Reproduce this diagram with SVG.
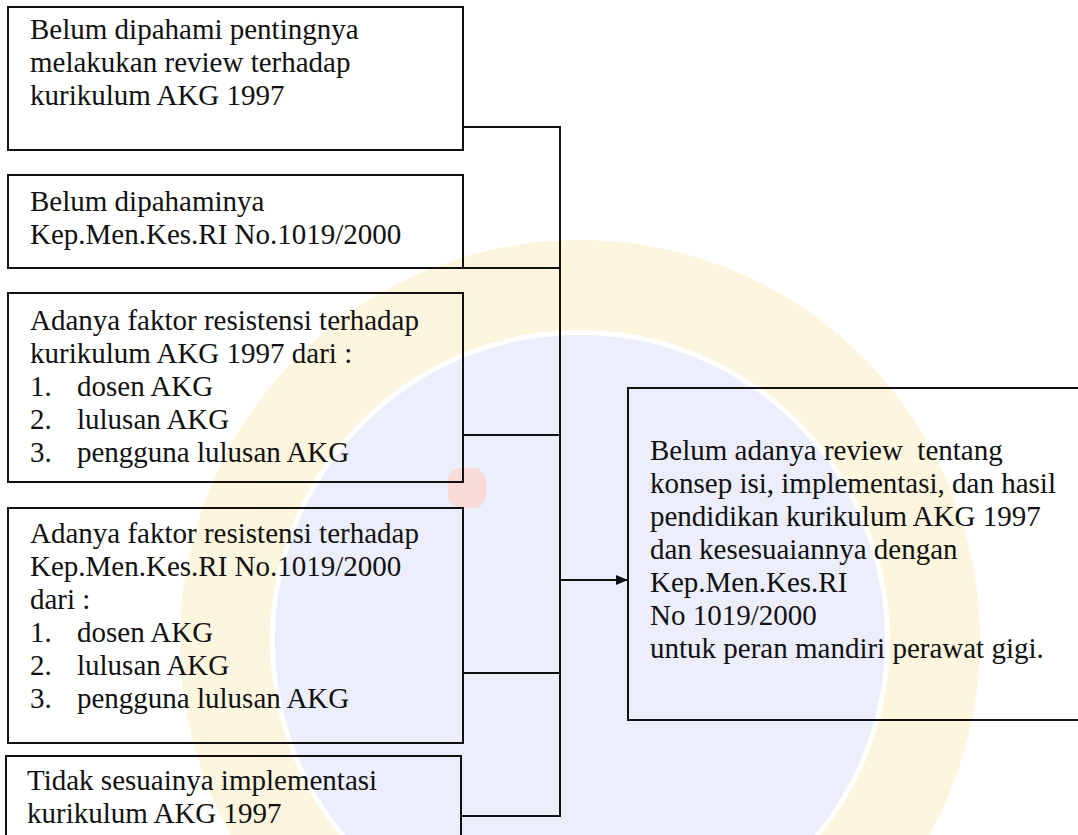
<svg xmlns="http://www.w3.org/2000/svg" width="1078" height="835" viewBox="0 0 1078 835">
<style>
  .box { fill: none; stroke: #111; stroke-width: 2; }
  .conn { fill: none; stroke: #111; stroke-width: 2; }
  text { font-family: "Liberation Serif", "Times New Roman", serif; font-size: 29px; fill: #111; }
</style>
<defs>
  <marker id="arrow" viewBox="0 0 12 10" refX="12" refY="5" markerWidth="12" markerHeight="10" markerUnits="userSpaceOnUse" orient="auto">
    <path d="M0,0 L12,5 L0,10 z" fill="#111"/>
  </marker>
</defs>
<rect width="1078" height="835" fill="#ffffff"/>
<g id="watermark" opacity="0.65">
  <circle cx="580" cy="640" r="355" fill="none" stroke="#fcf1cc" stroke-width="90"/>
  <circle cx="580" cy="640" r="305" fill="#e2e5fa"/>
  <rect x="448" y="468" width="38" height="40" rx="13" fill="#f8c9c4"/>
</g>
<g id="connectors">
  <path class="conn" d="M463,127 H560"/>
  <path class="conn" d="M463,268 H560"/>
  <path class="conn" d="M463,435 H560"/>
  <path class="conn" d="M463,673 H560"/>
  <path class="conn" d="M461,816 H560"/>
  <path class="conn" d="M560,126 V817"/>
  <path class="conn" d="M560,580 H628" marker-end="url(#arrow)"/>
</g>
<g id="node1">
  <rect class="box" x="8" y="7" width="455" height="143"/>
  <text x="30" y="39">Belum dipahami pentingnya</text>
  <text x="30" y="72">melakukan review terhadap</text>
  <text x="30" y="105">kurikulum AKG 1997</text>
</g>
<g id="node2">
  <rect class="box" x="8" y="175" width="455" height="93"/>
  <text x="30" y="211">Belum dipahaminya</text>
  <text x="30" y="244">Kep.Men.Kes.RI No.1019/2000</text>
</g>
<g id="node3">
  <rect class="box" x="8" y="293" width="455" height="189"/>
  <text x="30" y="330">Adanya faktor resistensi terhadap</text>
  <text x="30" y="363">kurikulum AKG 1997 dari :</text>
  <text x="30" y="396">1.</text><text x="77" y="396">dosen AKG</text>
  <text x="30" y="429">2.</text><text x="77" y="429">lulusan AKG</text>
  <text x="30" y="462">3.</text><text x="77" y="462">pengguna lulusan AKG</text>
</g>
<g id="node4">
  <rect class="box" x="8" y="508" width="455" height="235"/>
  <text x="30" y="543">Adanya faktor resistensi terhadap</text>
  <text x="30" y="576">Kep.Men.Kes.RI No.1019/2000</text>
  <text x="30" y="609">dari :</text>
  <text x="30" y="642">1.</text><text x="77" y="642">dosen AKG</text>
  <text x="30" y="675">2.</text><text x="77" y="675">lulusan AKG</text>
  <text x="30" y="708">3.</text><text x="77" y="708">pengguna lulusan AKG</text>
</g>
<g id="node5">
  <rect class="box" x="6" y="756" width="455" height="110"/>
  <text x="27" y="790">Tidak sesuainya implementasi</text>
  <text x="27" y="823">kurikulum AKG 1997</text>
</g>
<g id="node6">
  <rect class="box" x="628" y="388" width="480" height="332"/>
  <text x="650" y="460">Belum adanya review&#160; tentang</text>
  <text x="650" y="493">konsep isi, implementasi, dan hasil</text>
  <text x="650" y="526">pendidikan kurikulum AKG 1997</text>
  <text x="650" y="559">dan kesesuaiannya dengan</text>
  <text x="650" y="592">Kep.Men.Kes.RI</text>
  <text x="650" y="625">No 1019/2000</text>
  <text x="650" y="658">untuk peran mandiri perawat gigi.</text>
</g>
</svg>
